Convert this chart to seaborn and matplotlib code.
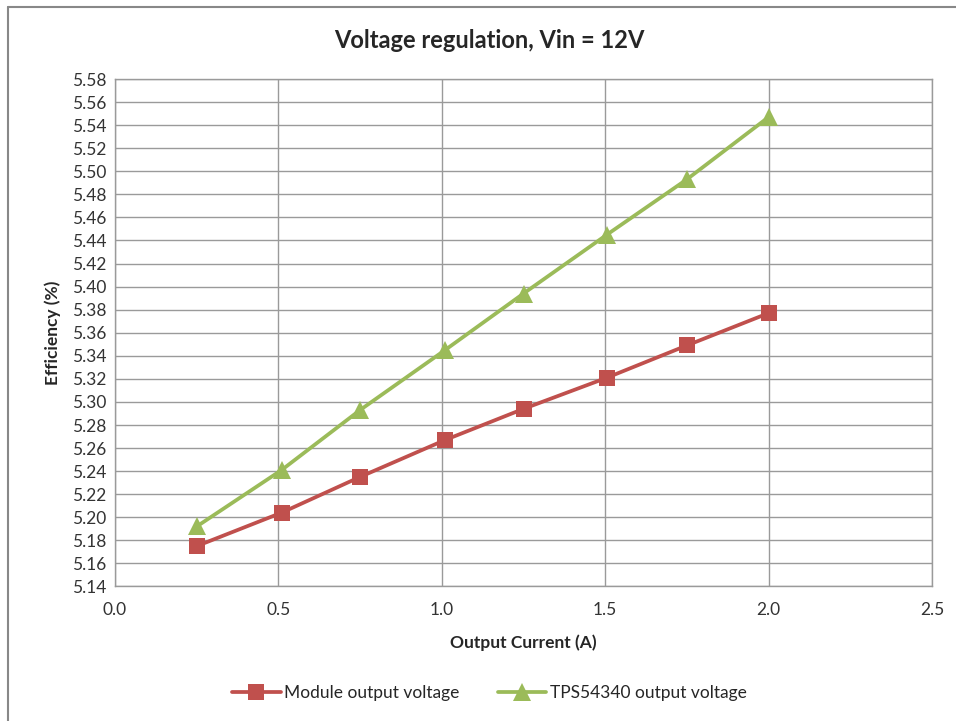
import matplotlib
matplotlib.use("Agg")
import matplotlib.pyplot as plt
import matplotlib.lines as mlines
import numpy as np
import pandas as pd
import seaborn as sns

current = [0.25, 0.51, 0.75, 1.01, 1.25, 1.505, 1.75, 2.0]
module_v = [5.175, 5.204, 5.235, 5.267, 5.294, 5.321, 5.349, 5.377]
tps_v = [5.192, 5.241, 5.293, 5.345, 5.394, 5.445, 5.493, 5.547]
series_names = ["Module output voltage", "TPS54340 output voltage"]
x_ticks = [0.0, 0.5, 1.0, 1.5, 2.0, 2.5]
y_ticks = [round(5.14 + 0.02 * i, 2) for i in range(23)]

df = pd.DataFrame({
    "current": current * 2,
    "voltage": module_v + tps_v,
    "series": [series_names[0]] * len(current) + [series_names[1]] * len(current),
})

sns.set_theme(style="white")
plt.rcParams["font.family"] = ["Lato", "DejaVu Sans"]

fig = plt.figure(figsize=(9.56, 7.21), dpi=100)
ax = fig.add_axes([0.1203, 0.1866, 0.9749 - 0.1203, 0.8904 - 0.1866])

colors = {series_names[0]: "#C0504D", series_names[1]: "#9BBB59"}
markers = {series_names[0]: "s", series_names[1]: "^"}
msizes = {series_names[0]: 11, series_names[1]: 13}
sns.lineplot(data=df, x="current", y="voltage", hue="series", style="series",
             palette=colors, markers=markers, dashes=False, linewidth=2.7,
             markersize=11, markeredgewidth=0, ax=ax, legend=False)
for line, name in zip(ax.lines, series_names):
    line.set_markersize(msizes[name])

ax.set_xlim(0, 2.5)
ax.set_ylim(5.14, 5.58)
ax.set_xticks(x_ticks)
ax.set_yticks(y_ticks)
ax.set_xticklabels([f"{v:.1f}" for v in x_ticks], fontsize=12.5, color="#333333")
ax.set_yticklabels([f"{v:.2f}" for v in y_ticks], fontsize=12.5, color="#333333")
ax.tick_params(axis="y", length=0, pad=6)
ax.tick_params(axis="x", length=0, pad=11)
ax.grid(True, color="#9a9a9a", linewidth=1.0)
ax.set_axisbelow(True)
for s in ax.spines.values():
    s.set_color("#9a9a9a")
    s.set_linewidth(1.0)

ax.set_xlabel("Output Current (A)", fontsize=12.5, fontweight="bold", labelpad=12)
ax.set_ylabel("Efficiency (%)", fontsize=12.5, fontweight="bold", labelpad=8)
fig.text(0.512, 1 - 40 / 721, "Voltage regulation, Vin = 12V", ha="center", va="center",
         fontsize=17, fontweight="bold")

handles = [mlines.Line2D([], [], color=colors[n], marker=markers[n], markersize=msizes[n],
                         markeredgewidth=0, linewidth=2.7, label=n) for n in series_names]
fig.legend(handles=handles, loc="center", bbox_to_anchor=(0.512, 1 - 693 / 721), ncol=2,
           frameon=False, fontsize=12.5, handlelength=2.8, columnspacing=2.2, handletextpad=0.2)

# outer chart border (top and left visible)
fig.add_artist(mlines.Line2D([8 / 956, 1], [1 - 7 / 721, 1 - 7 / 721], color="#888888",
                             linewidth=1.5, transform=fig.transFigure))
fig.add_artist(mlines.Line2D([8 / 956, 8 / 956], [0, 1 - 7 / 721], color="#888888",
                             linewidth=1.5, transform=fig.transFigure))

fig.savefig("out.png", dpi=100)
